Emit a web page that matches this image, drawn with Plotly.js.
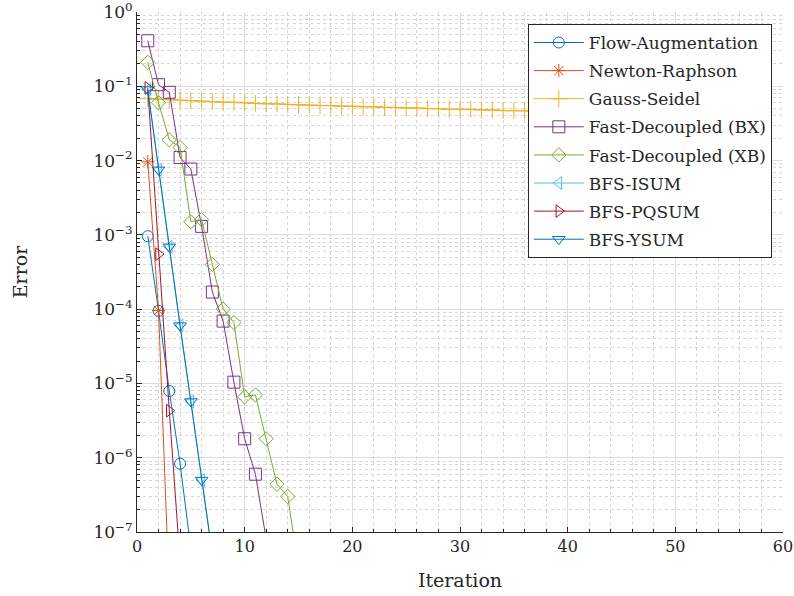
<!DOCTYPE html>
<html>
<head>
<meta charset="utf-8">
<script src="https://cdn.plot.ly/plotly-3.0.1.min.js"></script>
<style>
  html, body { margin: 0; padding: 0; background: #ffffff; }
  #chart { width: 794px; height: 596px; }
</style>
</head>
<body>
<div id="chart"></div>
<script>
// Convergence error per iteration for each power-flow solver
const flowAugmentation = [9.6e-4, 9.5e-5, 7.9e-6, 8.3e-7, 6e-8];
const newtonRaphson    = [9.6e-3, 9.6e-5, 1.5e-8];
const gaussSeidel      = [0.068, 0.067, 0.066, 0.065, 0.064, 0.063, 0.062, 0.061, 0.061, 0.060,
                          0.059, 0.058, 0.058, 0.057, 0.056, 0.056, 0.055, 0.055, 0.054, 0.054,
                          0.053, 0.053, 0.052, 0.052, 0.051, 0.051, 0.050, 0.050, 0.049, 0.049,
                          0.049, 0.048, 0.048, 0.047, 0.047, 0.047, 0.046, 0.046, 0.046, 0.045,
                          0.045, 0.045, 0.045, 0.044, 0.044, 0.044, 0.044, 0.043, 0.043, 0.043];
const fastDecoupledBX  = [0.41, 0.105, 0.083, 0.011, 0.0077, 0.0013, 1.7e-4, 6.9e-5, 1.04e-5, 1.8e-6, 6e-7, 8e-8];
const fastDecoupledXB  = [0.21, 0.06, 0.019, 0.015, 0.0015, 0.0016, 4e-4, 1e-4, 6.6e-5, 6.6e-6, 7e-6, 1.8e-6, 4.4e-7, 3e-7, 3.3e-8];
const bfsISUM          = [0.09, 0.0075, 6.9e-4, 6e-5, 5.7e-6, 5e-7, 5e-8];
const bfsPQSUM         = [0.095, 5.5e-4, 4.3e-6, 4e-8];
const bfsYSUM          = [0.09, 0.0075, 6.9e-4, 6e-5, 5.7e-6, 5e-7, 5e-8];

const seriesNames = ['Flow-Augmentation', 'Newton-Raphson', 'Gauss-Seidel', 'Fast-Decoupled (BX)',
                     'Fast-Decoupled (XB)', 'BFS-ISUM', 'BFS-PQSUM', 'BFS-YSUM'];
const seriesValues = [flowAugmentation, newtonRaphson, gaussSeidel, fastDecoupledBX,
                      fastDecoupledXB, bfsISUM, bfsPQSUM, bfsYSUM];

const yTickVals = [1e-7, 1e-6, 1e-5, 1e-4, 1e-3, 1e-2, 1e-1, 1];
const yTickText = ['10<sup>−7</sup>', '10<sup>−6</sup>', '10<sup>−5</sup>', '10<sup>−4</sup>',
                   '10<sup>−3</sup>', '10<sup>−2</sup>', '10<sup>−1</sup>', '10<sup>0</sup>'];

// MATLAB default line colour order and one marker per solver
const colors  = ['#0072BD', '#D95319', '#EDB120', '#7E2F8E', '#77AC30', '#4DBEEE', '#A2142F', '#0072BD'];
const symbols = ['circle-open', 'asterisk-open', 'cross-thin-open', 'square-open',
                 'diamond-open', 'triangle-left-open', 'triangle-right-open', 'triangle-down-open'];
const sizes   = [11, 11, 12, 12, 11, 11, 11, 11];

const traces = seriesValues.map((vals, i) => ({
  x: vals.map((_, k) => k + 1),
  y: vals,
  name: seriesNames[i],
  legendgroup: 'g' + i,
  type: 'scatter',
  mode: 'lines+markers',
  line: { color: colors[i], width: 1 },
  marker: { symbol: symbols[i], size: sizes[i], color: colors[i], line: { color: colors[i], width: 1 } },
  cliponaxis: true
}));

const textColor = '#262626';
const layout = {
  width: 794,
  height: 596,
  margin: { l: 137, r: 11, t: 12, b: 64 },
  paper_bgcolor: '#ffffff',
  plot_bgcolor: '#ffffff',
  font: { family: 'DejaVu Serif, serif', color: textColor, size: 16 },
  showlegend: true,
  legend: {
    x: 0.605, y: 0.977, xanchor: 'left', yanchor: 'top',
    bgcolor: '#ffffff', bordercolor: textColor, borderwidth: 1,
    font: { family: 'DejaVu Serif, serif', size: 17, color: textColor },
    traceorder: 'grouped', tracegroupgap: 3, itemwidth: 50
  },
  xaxis: {
    range: [0, 60], tick0: 0, dtick: 10,
    ticks: 'inside', ticklen: 5, tickcolor: textColor,
    showline: true, linecolor: textColor, linewidth: 1, mirror: false,
    showgrid: true, gridcolor: '#dedede', gridwidth: 1, zeroline: false,
    tickfont: { size: 16 }, ticklabeloverflow: 'allow',
    minor: { dtick: 2, ticks: 'inside', ticklen: 3, tickcolor: textColor,
             showgrid: true, gridcolor: '#d6d6d6', griddash: 'dot', gridwidth: 1 },
    title: { text: 'Iteration', font: { size: 19 }, standoff: 18 }
  },
  yaxis: {
    type: 'log', range: [-7, 0],
    tickvals: yTickVals, ticktext: yTickText,
    ticks: 'inside', ticklen: 5, tickcolor: textColor,
    showline: true, linecolor: textColor, linewidth: 1, mirror: false,
    showgrid: true, gridcolor: '#dedede', gridwidth: 1, zeroline: false,
    tickfont: { size: 17 }, ticklabeloverflow: 'allow',
    minor: { dtick: 'D1', ticks: 'inside', ticklen: 3, tickcolor: textColor,
             showgrid: true, gridcolor: '#d6d6d6', griddash: 'dot', gridwidth: 1 },
    title: { text: 'Error', font: { size: 19 }, standoff: 60 }
  }
};

Plotly.newPlot('chart', traces, layout, { displayModeBar: false, staticPlot: true });
</script>
</body>
</html>
